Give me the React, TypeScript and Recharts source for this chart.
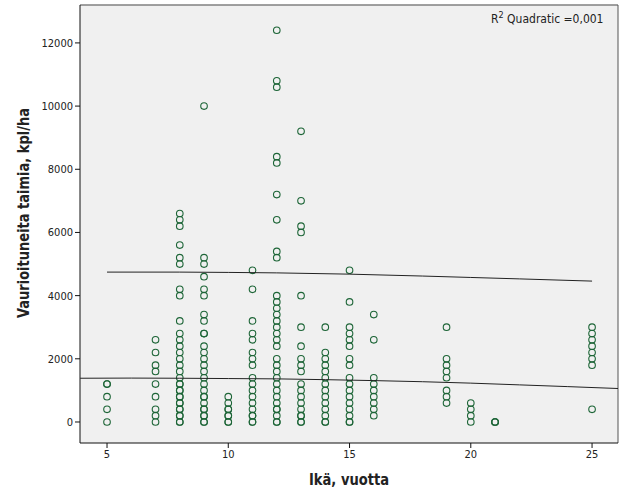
import React from "react";
import { ScatterChart, Scatter, XAxis, YAxis, CartesianGrid, ReferenceLine } from "recharts";

const ages = [5, 7, 8, 9, 10, 11, 12, 13, 14, 15, 16, 19, 20, 21, 25];
const damagedByAge: number[][] = [
  [0, 400, 800, 1200, 1200],
  [0, 200, 400, 800, 1200, 1600, 1800, 2200, 2600],
  [0, 0, 200, 200, 400, 400, 600, 600, 800, 800, 1000, 1000, 1200, 1200, 1400, 1600, 1800, 2000, 2200, 2400, 2600, 2800, 3200, 4000, 4200, 5000, 5200, 5600, 6200, 6400, 6600],
  [0, 0, 200, 200, 400, 400, 600, 800, 800, 1000, 1200, 1400, 1600, 1800, 2000, 2200, 2400, 2800, 2800, 3200, 3400, 4000, 4200, 4600, 5000, 5200, 10000],
  [0, 0, 200, 200, 400, 400, 600, 800],
  [0, 0, 200, 200, 400, 600, 800, 1000, 1200, 1400, 1800, 2000, 2200, 2600, 2800, 3200, 4200, 4800],
  [0, 0, 200, 400, 400, 600, 800, 1000, 1200, 1400, 1600, 1800, 2000, 2400, 2600, 2800, 3000, 3200, 3400, 3600, 3800, 4000, 5200, 5400, 6400, 7200, 8200, 8400, 10600, 10800, 12400],
  [0, 0, 200, 200, 400, 600, 800, 1000, 1200, 1600, 1800, 2000, 2400, 3000, 4000, 6000, 6200, 7000, 9200],
  [0, 0, 200, 400, 600, 800, 1000, 1200, 1400, 1600, 1800, 2000, 2200, 3000],
  [0, 0, 200, 400, 600, 800, 1000, 1200, 1400, 1800, 2000, 2400, 2600, 2800, 3000, 3800, 4800],
  [200, 400, 600, 800, 1000, 1200, 1400, 2600, 3400],
  [600, 800, 1000, 1400, 1600, 1800, 2000, 3000],
  [0, 200, 400, 600],
  [0, 0, 0],
  [400, 1800, 2000, 2200, 2400, 2600, 2800, 3000],
];

const fitX = [3.89, 6, 8, 10, 12, 14, 16, 18, 20, 22, 24, 26.07];
const fitY = [1385, 1390, 1385, 1375, 1365, 1340, 1310, 1275, 1230, 1175, 1120, 1060];
const upperX = [5, 8, 10, 12, 15, 18, 20, 22, 25];
const upperY = [4745, 4745, 4735, 4720, 4680, 4620, 4575, 4530, 4460];

const xTicks = [5, 10, 15, 20, 25];
const yTicks = [0, 2000, 4000, 6000, 8000, 10000, 12000];

const X_MIN = 3.886;
const X_MAX = 26.07;
const Y_MIN = -665;
const Y_MAX = 13200;

const points = ages.flatMap((a, i) => damagedByAge[i].map((v) => ({ x: a, y: v })));
const fitLine = fitX.map((x, i) => ({ x, y: fitY[i] }));
const upperLine = upperX.map((x, i) => ({ x, y: upperY[i] }));

const FONT = "'DejaVu Sans Condensed', 'Liberation Sans Narrow', 'DejaVu Sans', sans-serif";

const Circle = (props: any) => {
  const { cx, cy } = props;
  if (cx == null || cy == null) return null;
  return <circle cx={cx} cy={cy} r={3.3} fill="none" stroke="#1d6537" strokeWidth={1.1} />;
};

const NoShape = () => null;

const YTitle = () => {
  const x = 29;
  const y = 213;
  return (
    <text x={x} y={y} transform={`rotate(-90, ${x}, ${y})`} textAnchor="middle" fontFamily={FONT} fontWeight="bold" fontSize={15} fill="#222" textLength={210} lengthAdjust="spacingAndGlyphs">
      Vaurioituneita taimia, kpl/ha
    </text>
  );
};

const XTitle = () => (
  <text x={349} y={485} textAnchor="middle" fontFamily={FONT} fontWeight="bold" fontSize={16} fill="#222" textLength={80} lengthAdjust="spacingAndGlyphs">
    Ikä, vuotta
  </text>
);

export default function App() {
  return (
    <div style={{ position: "absolute", left: 0, top: 0, width: 626, height: 501, background: "#fff" }}>
      <ScatterChart width={626} height={501} margin={{ top: 5, right: 8, bottom: 0, left: 0 }}>
        <CartesianGrid fill="#f0f0f0" horizontal={false} vertical={false} />
        <XAxis
          type="number"
          dataKey="x"
          domain={[X_MIN, X_MAX]}
          ticks={xTicks}
          allowDataOverflow
          height={58}
          stroke="#111"
          tickSize={5}
          tick={{ fontFamily: FONT, fontSize: 11, fill: "#222" }}
          tickLine={{ stroke: "#111" }}
          axisLine={{ stroke: "#111" }}
          label={<XTitle />}
        />
        <YAxis
          type="number"
          dataKey="y"
          domain={[Y_MIN, Y_MAX]}
          ticks={yTicks}
          allowDataOverflow
          width={80}
          tickSize={5}
          tick={{ fontFamily: FONT, fontSize: 11, fill: "#222" }}
          tickLine={{ stroke: "#111" }}
          axisLine={{ stroke: "#111" }}
          label={<YTitle />}
        />
        <ReferenceLine y={Y_MAX} stroke="#808080" strokeWidth={1.5} ifOverflow="visible" />
        <ReferenceLine x={X_MAX} stroke="#555" strokeWidth={1} ifOverflow="visible" />
        <Scatter data={points} shape={<Circle />} isAnimationActive={false} />
        <Scatter data={fitLine} line={{ stroke: "#222", strokeWidth: 1 }} shape={<NoShape />} isAnimationActive={false} />
        <Scatter data={upperLine} line={{ stroke: "#222", strokeWidth: 1 }} shape={<NoShape />} isAnimationActive={false} />
      </ScatterChart>
      <div style={{ position: "absolute", left: 491, top: 12, fontFamily: FONT, fontSize: 12, color: "#222", whiteSpace: "nowrap", lineHeight: "15px" }}>
        R<sup style={{ fontSize: 9, verticalAlign: "top", lineHeight: "9px", position: "relative", top: -1 }}>2</sup> Quadratic =0,001
      </div>
    </div>
  );
}
